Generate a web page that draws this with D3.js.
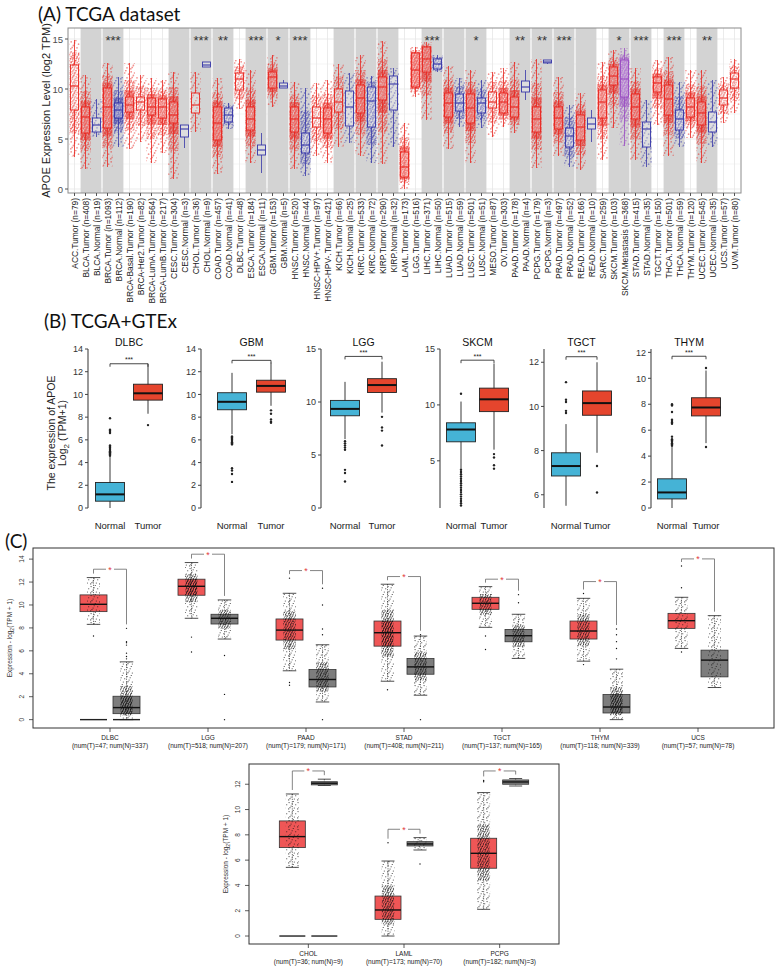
<!DOCTYPE html>
<html>
<head>
<meta charset="utf-8">
<script src="https://cdn.jsdelivr.net/npm/d3@7"></script>
<style>
body { margin: 0; background: #fff; }
svg { display: block; }
text { font-family: "Liberation Sans", Arial, sans-serif; }
</style>
</head>
<body>
<svg id="fig" width="779" height="968"></svg>
<script>
// ---------- panel A : TCGA dataset ----------
const aLabels = ['ACC.Tumor (n=79)', 'BLCA.Tumor (n=408)', 'BLCA.Normal (n=19)', 'BRCA.Tumor (n=1093)', 'BRCA.Normal (n=112)',
	'BRCA-Basal.Tumor (n=190)', 'BRCA-Her2.Tumor (n=82)', 'BRCA-LumA.Tumor (n=564)', 'BRCA-LumB.Tumor (n=217)',
	'CESC.Tumor (n=304)', 'CESC.Normal (n=3)', 'CHOL.Tumor (n=36)', 'CHOL.Normal (n=9)', 'COAD.Tumor (n=457)',
	'COAD.Normal (n=41)', 'DLBC.Tumor (n=48)', 'ESCA.Tumor (n=184)', 'ESCA.Normal (n=11)', 'GBM.Tumor (n=153)',
	'GBM.Normal (n=5)', 'HNSC.Tumor (n=520)', 'HNSC.Normal (n=44)', 'HNSC-HPV+.Tumor (n=97)', 'HNSC-HPV-.Tumor (n=421)',
	'KICH.Tumor (n=66)', 'KICH.Normal (n=25)', 'KIRC.Tumor (n=533)', 'KIRC.Normal (n=72)', 'KIRP.Tumor (n=290)',
	'KIRP.Normal (n=32)', 'LAML.Tumor (n=173)', 'LGG.Tumor (n=516)', 'LIHC.Tumor (n=371)', 'LIHC.Normal (n=50)',
	'LUAD.Tumor (n=515)', 'LUAD.Normal (n=59)', 'LUSC.Tumor (n=501)', 'LUSC.Normal (n=51)', 'MESO.Tumor (n=87)',
	'OV.Tumor (n=303)', 'PAAD.Tumor (n=178)', 'PAAD.Normal (n=4)', 'PCPG.Tumor (n=179)', 'PCPG.Normal (n=3)',
	'PRAD.Tumor (n=497)', 'PRAD.Normal (n=52)', 'READ.Tumor (n=166)', 'READ.Normal (n=10)', 'SARC.Tumor (n=259)',
	'SKCM.Tumor (n=103)', 'SKCM.Metastasis (n=368)', 'STAD.Tumor (n=415)', 'STAD.Normal (n=35)', 'TGCT.Tumor (n=150)',
	'THCA.Tumor (n=501)', 'THCA.Normal (n=59)', 'THYM.Tumor (n=120)', 'UCEC.Tumor (n=545)', 'UCEC.Normal (n=35)',
	'UCS.Tumor (n=57)', 'UVM.Tumor (n=80)'];

// [low, q1, median, q3, high] in log2 TPM
const aStats = [
	[3.2, 7.9, 10.3, 12.4, 14.9], [2.0, 5.6, 7.2, 8.2, 11.4], [5.2, 5.7, 6.4, 7.1, 9.0], [2.2, 6.1, 8.2, 10.1, 12.6],
	[4.2, 7.1, 7.9, 8.6, 11.2], [4.0, 7.7, 8.4, 9.2, 12.6], [4.7, 7.9, 8.7, 9.2, 11.4], [2.6, 7.4, 8.2, 9.1, 11.1],
	[3.6, 7.1, 8.2, 9.0, 10.9], [1.0, 6.6, 7.4, 8.7, 11.7], [4.1, 5.2, 6.0, 6.4, 6.4], [5.7, 7.6, 8.4, 9.6, 11.7],
	[12.2, 12.2, 12.4, 12.7, 12.7], [1.5, 4.9, 6.6, 8.2, 11.1], [6.0, 6.7, 7.4, 8.1, 8.6], [8.0, 9.9, 11.0, 11.6, 13.0],
	[2.6, 5.9, 7.0, 8.2, 11.9], [1.6, 3.4, 3.9, 4.4, 5.6], [8.2, 10.1, 11.2, 11.7, 13.4], [10.1, 10.1, 10.3, 10.6, 10.9],
	[2.0, 5.7, 7.0, 8.2, 10.7], [1.3, 3.6, 4.4, 5.6, 10.1], [3.3, 6.2, 7.1, 8.2, 10.6], [2.6, 5.6, 7.0, 8.1, 10.9],
	[4.2, 7.7, 8.7, 10.0, 12.5], [4.6, 6.3, 8.2, 9.8, 11.6], [3.3, 7.6, 9.1, 10.4, 13.4], [2.6, 6.2, 8.8, 10.2, 11.3],
	[2.5, 8.9, 10.2, 11.2, 14.8], [4.2, 7.9, 10.5, 11.3, 12.1], [0.0, 1.2, 2.2, 3.7, 6.6], [9.2, 10.2, 11.9, 13.6, 14.2],
	[6.9, 11.7, 13.0, 14.2, 14.7], [11.7, 12.0, 12.5, 13.0, 13.4], [4.0, 7.2, 8.6, 9.6, 12.3], [6.2, 7.8, 8.6, 9.5, 11.1],
	[2.6, 6.6, 8.1, 9.5, 11.9], [6.1, 7.6, 8.6, 9.1, 10.9], [5.2, 8.1, 8.7, 9.7, 11.7], [6.2, 7.6, 8.7, 9.6, 12.1],
	[5.6, 7.2, 8.2, 9.2, 12.7], [8.9, 9.7, 10.2, 10.8, 11.9], [2.1, 5.7, 7.0, 8.2, 13.0], [12.5, 12.6, 12.7, 12.9, 12.9],
	[3.3, 6.0, 7.1, 8.2, 11.2], [2.2, 4.2, 5.3, 6.1, 8.4], [1.9, 4.9, 6.2, 7.4, 9.6], [4.7, 6.0, 6.5, 7.1, 7.9],
	[2.9, 7.1, 8.7, 9.9, 12.7], [6.1, 10.4, 11.3, 12.2, 13.9], [4.3, 9.2, 11.0, 12.9, 14.1], [2.9, 7.0, 8.2, 9.5, 12.1],
	[2.2, 4.2, 6.0, 6.7, 8.9], [6.4, 9.7, 10.6, 11.2, 12.9], [3.3, 7.4, 9.0, 10.4, 13.2], [4.2, 5.9, 7.0, 7.9, 10.7],
	[5.1, 7.2, 8.2, 9.1, 11.9], [2.6, 6.4, 7.6, 8.7, 11.9], [4.2, 5.7, 6.7, 7.7, 10.9], [6.6, 8.4, 9.1, 9.9, 11.2],
	[7.6, 10.1, 11.0, 11.6, 13.0]];

const aPairedTypes = ['BLCA', 'BRCA', 'CESC', 'CHOL', 'COAD', 'ESCA', 'GBM', 'HNSC', 'KICH', 'KIRC', 'KIRP', 'LIHC',
	'LUAD', 'LUSC', 'PAAD', 'PCPG', 'PRAD', 'READ', 'SKCM', 'STAD', 'THCA', 'UCEC'];
const aStarTypes = ['BRCA', 'CHOL', 'COAD', 'ESCA', 'GBM', 'HNSC', 'LIHC', 'LUSC', 'PAAD', 'PCPG', 'PRAD', 'SKCM', 'STAD', 'THCA', 'UCEC'];
const aStarMarks = ['***', '***', '**', '***', '*', '***', '***', '*', '**', '**', '***', '*', '***', '***', '**'];
const aYTicks = [0, 5, 10, 15];

// ---------- panel B : TCGA+GTEx ----------
const bCancers = ['DLBC', 'GBM', 'LGG', 'SKCM', 'TGCT', 'THYM'];
const bNormalStats = [[0, 0.6, 1.2, 2.25, 4.5], [6.5, 8.65, 9.35, 10.15, 11.9], [6.5, 8.7, 9.35, 10.15, 11.9],
	[4.3, 6.7, 7.8, 8.4, 10.3], [5.5, 6.85, 7.3, 7.9, 9.2], [0, 0.7, 1.2, 2.25, 4.7]];
const bTumorStats = [[8.3, 9.5, 10.1, 10.9, 12.7], [9.0, 10.2, 10.75, 11.25, 12.8], [9.0, 10.9, 11.6, 12.2, 13.8],
	[6.0, 9.4, 10.5, 11.5, 13.7], [7.9, 9.6, 10.15, 10.7, 12.0], [5.0, 7.1, 7.75, 8.5, 10.6]];
const bNormalOut = [
	[4.6, 4.7, 4.8, 4.9, 5.0, 5.1, 5.2, 5.3, 5.4, 5.5, 6.6, 6.7, 6.8, 6.9, 7.9],
	[6.3, 6.2, 6.1, 6.0, 5.9, 5.8, 5.7, 5.6, 3.5, 3.3, 3.0, 2.3],
	[6.3, 6.1, 5.9, 5.7, 5.5, 3.6, 3.3, 2.5],
	[11.0, 4.2, 4.0, 3.8, 3.6, 3.4, 3.2, 3.0, 2.8, 2.6, 2.4, 2.2, 2.0, 1.8, 1.6, 1.4, 1.2, 1.0],
	[9.7, 9.8, 10.2, 10.3, 11.1],
	[4.8, 4.9, 5.0, 5.1, 5.2, 5.3, 5.5, 6.5, 6.6, 6.7, 6.8, 7.4, 7.9, 8.0]];
const bTumorOut = [[7.3], [8.6, 8.3, 7.8, 7.6, 7.5], [8.6, 7.6, 7.3, 5.9], [5.6, 5.3, 4.6, 4.3], [7.3, 6.1], [10.8, 4.7]];
const bBracket = [12.7, 13.0, 14.3, 14.0, 12.25, 11.7];
const bDomains = [[0, 14], [0, 14], [0, 15], [0.78, 15], [5.4, 12.6], [0, 12.26]];
const bTicks = [[0, 2, 4, 6, 8, 10, 12, 14], [0, 2, 4, 6, 8, 10, 12, 14], [0, 5, 10, 15], [5, 10, 15], [6, 8, 10, 12], [0, 2, 4, 6, 8, 10, 12]];

// ---------- panel C : GEPIA ----------
const cTopNames = ['DLBC', 'LGG', 'PAAD', 'STAD', 'TGCT', 'THYM', 'UCS'];
const cTopNumT = [47, 518, 179, 408, 137, 118, 57];
const cTopNumN = [337, 207, 171, 211, 165, 339, 78];
const cTopTumor = [[8.31, 9.42, 10.06, 10.88, 12.39], [8.84, 10.85, 11.63, 12.25, 13.7], [4.26, 6.94, 7.81, 8.78, 11.02],
	[3.35, 6.41, 7.58, 8.6, 11.81], [8.05, 9.62, 10.15, 10.67, 11.6], [5.1, 7.03, 7.73, 8.6, 10.58], [6.21, 7.96, 8.63, 9.27, 10.67]];
const cTopNormal = [[0, 0.52, 1.05, 2.04, 5.04], [7.03, 8.34, 8.84, 9.19, 10.44], [1.54, 2.85, 3.5, 4.37, 6.53],
	[2.13, 3.96, 4.6, 5.33, 7.29], [5.34, 6.79, 7.32, 7.87, 9.19], [0, 0.58, 1.1, 2.19, 4.4], [2.8, 3.73, 5.19, 6.06, 9.07]];
const cTopTumorOut = [[7.3], [7.2, 5.9], [12.34, 3.24, 3.0], [2.6], [7.3, 6.12], [11.0, 4.8], [13.4, 11.5, 5.9]];
const cTopNormalOut = [[5.3, 5.5, 5.8, 6.5, 6.7, 6.8, 7.96], [5.6, 2.2, 0], [11.46, 10.0, 7.9, 7.4, 0], [7.4, 0],
	[10.9, 10.2], [7.9, 7.4, 6.8, 6.2, 5.3], []];
const cTopBracket = [13.12, 14.43, 13.0, 12.48, 12.25, 12.04, 14.02];
const cTopZero = ['DLBC'];

const cBotNames = ['CHOL', 'LAML', 'PCPG'];
const cBotNumT = [36, 173, 182];
const cBotNumN = [9, 70, 3];
const cBotTumor = [[5.43, 6.99, 7.86, 9.1, 11.23], [0, 1.32, 2.06, 3.16, 5.93], [2.11, 5.36, 6.54, 7.73, 11.34]];
const cBotNormal = [[11.9, 11.95, 12.08, 12.2, 12.4], [6.8, 7.12, 7.28, 7.46, 7.78], [11.86, 12.0, 12.18, 12.34, 12.45]];
const cBotTumorOut = [[], [7.38], [12.3, 12.2]];
const cBotNormalOut = [[], [5.7], []];
const cBotBracket = [13.05, 8.44, 13.05];
const cBotZero = ['CHOL'];

// ---------------------------------------------------------------
const svg = d3.select('#fig');
svg.append('rect').attr('width', 779).attr('height', 968).attr('fill', '#fff');
const defs = svg.append('defs');

// fixed, irregular dot layout inside one pattern tile (texture only)
const dotLayout = [[0.12, 0.18], [0.58, 0.06], [0.86, 0.42], [0.34, 0.55], [0.7, 0.78], [0.08, 0.88], [0.46, 0.3], [0.22, 0.74]];

function makePattern(id, color, w, h, r, opacity) {
	var p = defs.append('pattern')
		.attr('id', id)
		.attr('patternUnits', 'userSpaceOnUse')
		.attr('width', w).attr('height', h);
	dotLayout.forEach(function(d) {
		p.append('circle').attr('cx', d[0] * w).attr('cy', d[1] * h).attr('r', r)
			.attr('fill', color).attr('fill-opacity', opacity);
	});
}

function cloud(g, cx, w, yTop, yBot, pat) {
	if (yBot - yTop <= 0) return;
	g.append('rect')
		.attr('x', cx - w / 2).attr('y', yTop)
		.attr('width', w).attr('height', yBot - yTop)
		.attr('fill', 'url(#' + pat + ')');
}

function title(x, y, str) {
	svg.append('text')
		.attr('x', x).attr('y', y)
		.style('font-family', 'Lato, "Noto Sans", sans-serif')
		.style('font-size', '19px')
		.attr('fill', '#111')
		.text(str);
}

const PanelA = {
	left: 69, right: 740, top: 28, bottom: 193,
	colors: { T: '#e8261f', N: '#3636a8', M: '#9a4cc2' },

	kind: function(label) {
		if (label.indexOf('.Normal') > 0) return 'N';
		if (label.indexOf('.Metastasis') > 0) return 'M';
		return 'T';
	},
	count: function(label) { return +label.match(/n=(\d+)/)[1]; },
	type: function(label) { return label.split('.')[0]; },

	draw: function() {
		const self = this;
		var g = svg.append('g');
		var x = d3.scaleBand().domain(aLabels).range([self.left, self.right]);
		var y = d3.scaleLinear().domain([-0.4, 16.1]).range([self.bottom, self.top]);
		var bw = x.bandwidth();

		for (var k in self.colors) {
			makePattern('pa-' + k + '-sparse', self.colors[k], 10, 10, 0.9, 0.5);
			makePattern('pa-' + k + '-mid', self.colors[k], 6, 6, 0.9, 0.5);
			makePattern('pa-' + k + '-dense', self.colors[k], 4.2, 4.2, 0.9, 0.55);
		}

		// grid
		g.selectAll('.hgrid').data(d3.range(0, 16, 2.5)).enter().append('line')
			.attr('x1', self.left).attr('x2', self.right)
			.attr('y1', d => y(d)).attr('y2', d => y(d))
			.attr('stroke', d => d % 5 == 0 ? '#e6e6e6' : '#f2f2f2').attr('stroke-width', 0.8);
		g.selectAll('.vgrid').data(aLabels).enter().append('line')
			.attr('x1', d => x(d) + bw / 2).attr('x2', d => x(d) + bw / 2)
			.attr('y1', self.top).attr('y2', self.bottom)
			.attr('stroke', '#e6e6e6').attr('stroke-width', 0.8);

		// grey bands for types with tumor + normal
		var runs = [];
		aLabels.forEach(function(l, i) {
			var t = self.type(l);
			if (aPairedTypes.indexOf(t) < 0) return;
			var last = runs[runs.length - 1];
			if (last && last.type == t) last.end = i;
			else runs.push({ type: t, start: i, end: i });
		});
		g.selectAll('.shade').data(runs).enter().append('rect')
			.attr('x', d => x(aLabels[d.start]) + 0.6)
			.attr('width', d => (d.end - d.start + 1) * bw - 1.2)
			.attr('y', self.top).attr('height', self.bottom - self.top)
			.attr('fill', '#d3d3d3');

		// points + boxes
		aLabels.forEach(function(l, i) {
			var s = aStats[i], k = self.kind(l), n = self.count(l);
			var cx = x(l) + bw / 2, c = self.colors[k];
			if (n >= 15) cloud(g, cx, 10.5, y(s[4]), y(s[0]), 'pa-' + k + '-sparse');
			if (n >= 40) cloud(g, cx, 10, y(s[3] + (s[4] - s[3]) * 0.5), y(s[1] - (s[1] - s[0]) * 0.5), 'pa-' + k + '-mid');
			if (n >= 100) cloud(g, cx, 10, y(s[3] + (s[4] - s[3]) * 0.2), y(s[1] - (s[1] - s[0]) * 0.2), 'pa-' + k + '-dense');
			if (n >= 300) cloud(g, cx, 9.5, y(s[3]), y(s[1]), 'pa-' + k + '-mid');

			g.append('line').attr('x1', cx).attr('x2', cx).attr('y1', y(s[4])).attr('y2', y(s[3]))
				.attr('stroke', c).attr('stroke-width', 0.8);
			g.append('line').attr('x1', cx).attr('x2', cx).attr('y1', y(s[1])).attr('y2', y(s[0]))
				.attr('stroke', c).attr('stroke-width', 0.8);
			g.append('rect')
				.attr('x', cx - 4).attr('width', 8)
				.attr('y', y(s[3])).attr('height', Math.max(1, y(s[1]) - y(s[3])))
				.attr('fill', '#fff').attr('fill-opacity', 0.25)
				.attr('stroke', c).attr('stroke-width', 0.9);
			g.append('line').attr('x1', cx - 4).attr('x2', cx + 4).attr('y1', y(s[2])).attr('y2', y(s[2]))
				.attr('stroke', c).attr('stroke-width', 1.1);
		});

		// significance stars
		aStarTypes.forEach(function(t, i) {
			var idx = aLabels.map(self.type).map((d, j) => d == t ? j : -1).filter(j => j >= 0);
			var cx = (x(aLabels[idx[0]]) + x(aLabels[idx[idx.length - 1]]) + bw) / 2;
			g.append('text').attr('x', cx).attr('y', 45)
				.attr('text-anchor', 'middle').style('font-size', '13px').attr('fill', '#333')
				.text(aStarMarks[i]);
		});

		// frame + axes
		g.append('rect').attr('x', self.left - 1).attr('y', self.top)
			.attr('width', self.right - self.left + 2).attr('height', self.bottom - self.top)
			.attr('fill', 'none').attr('stroke', '#8c8c8c').attr('stroke-width', 1);

		aYTicks.forEach(function(t) {
			g.append('line').attr('x1', self.left - 4).attr('x2', self.left - 1).attr('y1', y(t)).attr('y2', y(t))
				.attr('stroke', '#555');
			g.append('text').attr('x', self.left - 6).attr('y', y(t) + 3.5)
				.attr('text-anchor', 'end').style('font-size', '9.5px').attr('fill', '#4d4d4d').text(t);
		});
		g.append('text')
			.attr('transform', 'translate(50,' + ((self.top + self.bottom) / 2) + ') rotate(-90)')
			.attr('text-anchor', 'middle').style('font-size', '11px').attr('fill', '#222')
			.text('APOE Expression Level (log2 TPM)');

		aLabels.forEach(function(l) {
			var cx = x(l) + bw / 2;
			g.append('line').attr('x1', cx).attr('x2', cx).attr('y1', self.bottom).attr('y2', self.bottom + 3)
				.attr('stroke', '#555');
			g.append('text')
				.attr('transform', 'translate(' + (cx + 3) + ',' + (self.bottom + 5) + ') rotate(-90)')
				.attr('text-anchor', 'end').style('font-size', '8.4px').attr('fill', '#1a1a1a')
				.text(l);
		});
	}
};

const PanelB = {
	top: 349, bottom: 508,
	// axis x, normal box centre, tumor box centre
	layout: [[88, 110, 148], [201, 232, 271], [321, 345, 382], [440, 461, 494], [544, 566, 597], [651, 672, 706]],
	boxWidth: 29,
	normalFill: '#45b3d6',
	tumorFill: '#e5452d',

	draw: function() {
		const self = this;
		var g = svg.append('g');

		bCancers.forEach(function(name, i) {
			var lay = self.layout[i];
			var y = d3.scaleLinear().domain(bDomains[i]).range([self.bottom, self.top]);

			// axis
			g.append('line').attr('x1', lay[0]).attr('x2', lay[0]).attr('y1', self.top).attr('y2', self.bottom)
				.attr('stroke', '#444').attr('stroke-width', 1.1);
			bTicks[i].forEach(function(t) {
				g.append('line').attr('x1', lay[0] - 3).attr('x2', lay[0]).attr('y1', y(t)).attr('y2', y(t))
					.attr('stroke', '#444');
				g.append('text').attr('x', lay[0] - 5).attr('y', y(t) + 3.2)
					.attr('text-anchor', 'end').style('font-size', '9px').attr('fill', '#333').text(t);
			});
			g.append('text').attr('x', (lay[1] + lay[2]) / 2).attr('y', 346)
				.attr('text-anchor', 'middle').style('font-size', '10.5px').attr('fill', '#111').text(name);

			[[lay[1], bNormalStats[i], bNormalOut[i], self.normalFill, 'Normal'],
			 [lay[2], bTumorStats[i], bTumorOut[i], self.tumorFill, 'Tumor']].forEach(function(b) {
				var cx = b[0], s = b[1];
				g.append('line').attr('x1', cx).attr('x2', cx).attr('y1', y(s[4])).attr('y2', y(s[0]))
					.attr('stroke', '#222').attr('stroke-width', 0.9);
				g.append('rect').attr('x', cx - self.boxWidth / 2).attr('width', self.boxWidth)
					.attr('y', y(s[3])).attr('height', y(s[1]) - y(s[3]))
					.attr('fill', b[3]).attr('stroke', '#222').attr('stroke-width', 0.9);
				g.append('line').attr('x1', cx - self.boxWidth / 2).attr('x2', cx + self.boxWidth / 2)
					.attr('y1', y(s[2])).attr('y2', y(s[2]))
					.attr('stroke', '#111').attr('stroke-width', 2);
				b[2].forEach(function(v) {
					g.append('circle').attr('cx', cx).attr('cy', y(v)).attr('r', 1.2).attr('fill', '#222');
				});
				g.append('text').attr('x', cx).attr('y', 529)
					.attr('text-anchor', 'middle').style('font-size', '9.5px').attr('fill', '#222').text(b[4]);
			});

			// bracket
			var by = y(bBracket[i]);
			g.append('path')
				.attr('d', 'M' + lay[1] + ',' + (by + 3) + 'V' + by + 'H' + lay[2] + 'V' + (by + 3))
				.attr('fill', 'none').attr('stroke', '#333').attr('stroke-width', 0.9);
			g.append('text').attr('x', (lay[1] + lay[2]) / 2).attr('y', by - 1.5)
				.attr('text-anchor', 'middle').style('font-size', '7px').attr('fill', '#222').text('***');
		});

		var yl = g.append('text')
			.attr('transform', 'translate(55,433) rotate(-90)')
			.attr('text-anchor', 'middle').style('font-size', '10.5px').attr('fill', '#222');
		yl.append('tspan').attr('x', 0).attr('dy', 0).text('The expression of APOE');
		var l2 = yl.append('tspan').attr('x', 0).attr('dy', 11);
		l2.append('tspan').text('Log');
		l2.append('tspan').attr('dy', 3).style('font-size', '8px').text('2');
		l2.append('tspan').attr('dy', -3).text(' (TPM+1)');
	}
};

const PanelC = {
	tumorFill: '#ef5656',
	normalFill: '#7d7d7d',

	drawPlot: function(o) {
		const self = this;
		var g = svg.append('g');
		var f = o.frame;
		var x = d3.scaleBand().domain(o.names).range(o.xRange);
		var y = d3.scaleLinear().domain(o.yDomain).range([f.bottom, f.top]);
		var half = o.boxWidth / 2;

		g.append('rect').attr('x', f.left).attr('y', f.top)
			.attr('width', f.right - f.left).attr('height', f.bottom - f.top)
			.attr('fill', 'none').attr('stroke', '#333').attr('stroke-width', 1);

		o.ticks.forEach(function(t) {
			g.append('line').attr('x1', f.left - 4).attr('x2', f.left).attr('y1', y(t)).attr('y2', y(t))
				.attr('stroke', '#333').attr('stroke-width', 0.8);
			g.append('text').attr('transform', 'translate(' + (f.left - 9) + ',' + y(t) + ') rotate(-90)')
				.attr('text-anchor', 'middle').style('font-size', '6.5px').attr('fill', '#333').text(t);
		});
		var yl = g.append('text')
			.attr('transform', 'translate(' + (f.left - 21) + ',' + ((f.top + f.bottom) / 2) + ') rotate(-90)')
			.attr('text-anchor', 'middle').style('font-size', '6.5px').attr('fill', '#333');
		yl.append('tspan').text('Expression - log');
		yl.append('tspan').attr('dy', 2).style('font-size', '5px').text('2');
		yl.append('tspan').attr('dy', -2).text('(TPM + 1)');

		o.names.forEach(function(name, i) {
			var gx = x(name) + x.bandwidth() / 2;
			var tx = gx - o.offset, nx = gx + o.offset;

			g.append('line').attr('x1', gx).attr('x2', gx).attr('y1', f.bottom).attr('y2', f.bottom + 4)
				.attr('stroke', '#333').attr('stroke-width', 0.8);
			g.append('text').attr('x', gx).attr('y', f.bottom + 12)
				.attr('text-anchor', 'middle').style('font-size', '6.5px').attr('fill', '#222').text(name);
			g.append('text').attr('x', gx).attr('y', f.bottom + 19.5)
				.attr('text-anchor', 'middle').style('font-size', '6.5px').attr('fill', '#222')
				.text('(num(T)=' + o.numT[i] + '; num(N)=' + o.numN[i] + ')');

			if (o.zero.indexOf(name) >= 0) {
				[tx, nx].forEach(function(cx) {
					g.append('line').attr('x1', cx - half).attr('x2', cx + half).attr('y1', y(0)).attr('y2', y(0))
						.attr('stroke', '#222').attr('stroke-width', 1.4);
				});
			}

			var tops = [];
			[[tx, o.tumor[i], o.tumorOut[i], self.tumorFill, o.numT[i]],
			 [nx, o.normal[i], o.normalOut[i], self.normalFill, o.numN[i]]].forEach(function(b) {
				var cx = b[0], s = b[1];
				g.append('line').attr('x1', cx).attr('x2', cx).attr('y1', y(s[4])).attr('y2', y(s[0]))
					.attr('stroke', '#333').attr('stroke-width', 0.7).attr('stroke-dasharray', '1.2,1.2');
				[s[0], s[4]].forEach(function(v) {
					g.append('line').attr('x1', cx - half / 2).attr('x2', cx + half / 2).attr('y1', y(v)).attr('y2', y(v))
						.attr('stroke', '#222').attr('stroke-width', 0.8);
				});
				g.append('rect').attr('x', cx - half).attr('width', o.boxWidth)
					.attr('y', y(s[3])).attr('height', Math.max(1, y(s[1]) - y(s[3])))
					.attr('fill', b[3]).attr('stroke', '#333').attr('stroke-width', 0.8);
				g.append('line').attr('x1', cx - half).attr('x2', cx + half).attr('y1', y(s[2])).attr('y2', y(s[2]))
					.attr('stroke', '#111').attr('stroke-width', 1.4);
				if (b[4] >= 15) {
					cloud(g, cx, 13, y(s[4]), y(s[0]), 'pc-sparse');
					if (b[4] >= 100) cloud(g, cx, 12, y(s[3] + (s[4] - s[3]) * 0.3), y(s[1] - (s[1] - s[0]) * 0.3), 'pc-mid');
					if (b[4] >= 300) cloud(g, cx, 11, y(s[3]), y(s[1]), 'pc-mid');
				}
				b[2].forEach(function(v) {
					g.append('circle').attr('cx', cx).attr('cy', y(v)).attr('r', 0.7).attr('fill', '#111');
				});
				tops.push(d3.max(b[2].concat([s[4]])));
			});

			// bracket with red star
			var by = y(o.bracket[i]);
			g.append('path')
				.attr('d', 'M' + tx + ',' + (y(tops[0]) - 4) + 'V' + by + 'H' + nx + 'V' + (y(tops[1]) - 4))
				.attr('fill', 'none').attr('stroke', '#666').attr('stroke-width', 0.8);
			g.append('rect').attr('x', gx - 4).attr('y', by - 2).attr('width', 8).attr('height', 4).attr('fill', '#fff');
			g.append('text').attr('x', gx).attr('y', by + 3.5)
				.attr('text-anchor', 'middle').style('font-size', '9px').attr('fill', '#e23b3b').text('*');
		});
	},

	draw: function() {
		const self = this;
		makePattern('pc-sparse', '#111', 9, 9, 0.55, 0.85);
		makePattern('pc-mid', '#111', 5, 5, 0.55, 0.85);

		self.drawPlot({
			names: cTopNames, numT: cTopNumT, numN: cTopNumN,
			tumor: cTopTumor, normal: cTopNormal, tumorOut: cTopTumorOut, normalOut: cTopNormalOut,
			bracket: cTopBracket, zero: cTopZero,
			frame: { left: 33, right: 774, top: 548, bottom: 728 },
			xRange: [61, 747], yDomain: [-0.73, 14.97], ticks: [0, 2, 4, 6, 8, 10, 12, 14],
			offset: 16.5, boxWidth: 27
		});
		self.drawPlot({
			names: cBotNames, numT: cBotNumT, numN: cBotNumN,
			tumor: cBotTumor, normal: cBotNormal, tumorOut: cBotTumorOut, normalOut: cBotNormalOut,
			bracket: cBotBracket, zero: cBotZero,
			frame: { left: 249, right: 559, top: 764, bottom: 944 },
			xRange: [260.5, 547.5], yDomain: [-0.63, 13.6], ticks: [0, 2, 4, 6, 8, 10, 12],
			offset: 16, boxWidth: 26
		});
	}
};

title(38, 21, '(A)  TCGA dataset');
title(44, 328, '(B)   TCGA+GTEx');
title(5, 548, '(C)');
PanelA.draw();
PanelB.draw();
PanelC.draw();
</script>
</body>
</html>
